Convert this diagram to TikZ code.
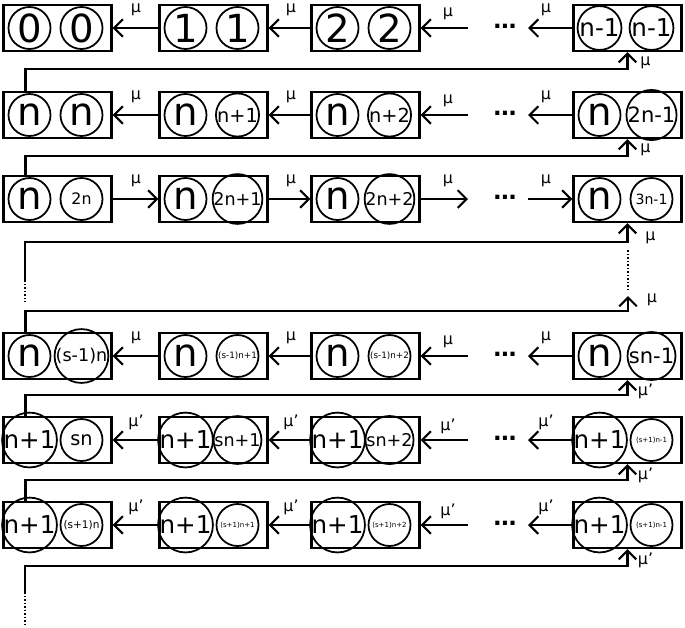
\documentclass[tikz,border=0pt]{standalone}
\usepackage{fontspec}
\setmainfont{DejaVu Sans}
\usetikzlibrary{arrows.meta}
\newcommand{\fs}[1]{\fontsize{#1}{#1}\selectfont}
\tikzstyle{box}=[draw,line width=1.3pt,minimum width=2.16cm,minimum height=0.92cm,inner sep=0pt]
\tikzstyle{ring}=[draw,circle,line width=1pt,minimum size=0.84cm,inner sep=0pt]
\tikzstyle{flow}=[line width=1.2pt,-{Straight Barb[length=5pt,width=10pt]}]
\tikzstyle{rate}=[font=\fs{9}]
\tikzstyle{more}=[font=\bfseries\fs{13}]
\tikzstyle{gap}=[line width=1.6pt,dash pattern=on 1pt off 1pt]
\newcommand{\statebox}[4]{%
	\node[box] (#1) at #2 {};
	\node[ring] (#1a) at ([xshift=-0.56cm]#1.center) {#3};
	\node[ring] (#1b) at ([xshift=0.48cm]#1.center) {#4};}
\begin{document}
\begin{tikzpicture}[x=0.02cm,y=-0.02cm]
	\useasboundingbox (0,0) rectangle (685,627);
	%The state boxes, row by row
	\foreach \pos/\name/\l/\r in {{(57.5,28)/b11/{\fs{22}0}/{\fs{22}0}}, {(213.5,28)/b12/{\fs{22}1}/{\fs{22}1}},
								  {(365.5,28)/b13/{\fs{22}2}/{\fs{22}2}}, {(627.5,28)/b14/{\fs{14}n-1}/{\fs{14}n-1}}}
	\statebox{\name}{\pos}{\l}{\r};
	\foreach \pos/\name/\l/\r in {{(57.5,115)/b21/{\fs{22}n}/{\fs{22}n}}, {(213.5,115)/b22/{\fs{22}n}/{\fs{11}n+1}},
								  {(365.5,115)/b23/{\fs{22}n}/{\fs{11}n+2}}, {(627.5,115)/b24/{\fs{22}n}/{\fs{12}2n-1}}}
	\statebox{\name}{\pos}{\l}{\r};
	\foreach \pos/\name/\l/\r in {{(57.5,199)/b31/{\fs{22}n}/{\fs{9}2n}}, {(213.5,199)/b32/{\fs{22}n}/{\fs{10}2n+1}},
								  {(365.5,199)/b33/{\fs{22}n}/{\fs{10}2n+2}}, {(627.5,199)/b34/{\fs{22}n}/{\fs{8}3n-1}}}
	\statebox{\name}{\pos}{\l}{\r};
	\foreach \pos/\name/\l/\r in {{(57.5,356)/b41/{\fs{22}n}/{\fs{10}(s-1)n}}, {(213.5,356)/b42/{\fs{22}n}/{\fs{5}(s-1)n+1}},
								  {(365.5,356)/b43/{\fs{22}n}/{\fs{5}(s-1)n+2}}, {(627.5,356)/b44/{\fs{22}n}/{\fs{12}sn-1}}}
	\statebox{\name}{\pos}{\l}{\r};
	\foreach \pos/\name/\l/\r in {{(57.5,440)/b51/{\fs{14}n+1}/{\fs{11}sn}}, {(213.5,440)/b52/{\fs{14}n+1}/{\fs{10}sn+1}},
								  {(365.5,440)/b53/{\fs{14}n+1}/{\fs{10}sn+2}}, {(627.5,440)/b54/{\fs{14}n+1}/{\fs{4}(s+1)n-1}}}
	\statebox{\name}{\pos}{\l}{\r};
	\foreach \pos/\name/\l/\r in {{(57.5,525)/b61/{\fs{14}n+1}/{\fs{6}(s+1)n}}, {(213.5,525)/b62/{\fs{14}n+1}/{\fs{4}(s+1)n+1}},
								  {(365.5,525)/b63/{\fs{14}n+1}/{\fs{4}(s+1)n+2}}, {(627.5,525)/b64/{\fs{14}n+1}/{\fs{4}(s+1)n-1}}}
	\statebox{\name}{\pos}{\l}{\r};
	%Arrows inside the rows (to the left)
	\foreach \row/\y/\m in {1/28/μ, 2/115/μ, 4/356/μ, 5/440/μ', 6/525/μ'}{
		\coordinate (l\row) at (468,\y);
		\coordinate (r\row) at (528,\y);
		\node[more] (d\row) at (505,\y-2) {\dots};
		\draw[flow] (b\row2.west) -- (b\row1.east);
		\draw[flow] (b\row3.west) -- (b\row2.east);
		\draw[flow] (l\row) -- (b\row3.east);
		\draw[flow] (b\row4.west) -- (r\row);
		\node[rate] (m\row a) at (136,\y-18) {\m};
		\node[rate] (m\row b) at (291,\y-18) {\m};
		\node[rate] (m\row c) at (448,\y-14) {\m};
		\node[rate] (m\row d) at (546,\y-18) {\m};
	}
	%Third row goes to the right
	\coordinate (l3) at (468,199);
	\coordinate (r3) at (528,199);
	\node[more] (d3) at (505,197) {\dots};
	\draw[flow] (b31.east) -- (b32.west);
	\draw[flow] (b32.east) -- (b33.west);
	\draw[flow] (b33.east) -- (l3);
	\draw[flow] (r3) -- (b34.west);
	\node[rate] (m3a) at (136,181) {μ};
	\node[rate] (m3b) at (291,181) {μ};
	\node[rate] (m3c) at (448,181) {μ};
	\node[rate] (m3d) at (546,181) {μ};
	%Returns from one row to the next
	\draw[flow] ([xshift=-0.64cm]b21.north) -- ++(0,-22) -| (b14.south);
	\draw[flow] ([xshift=-0.64cm]b31.north) -- ++(0,-19) -| (b24.south);
	\draw[flow] ([xshift=-0.64cm]b51.north) -- ++(0,-21) -| (b44.south);
	\draw[flow] ([xshift=-0.64cm]b61.north) -- ++(0,-21) -| (b54.south);
	\node[rate] (f1) at ([xshift=0.36cm,yshift=-0.22cm]b14.south) {μ};
	\node[rate] (f2) at ([xshift=0.36cm,yshift=-0.22cm]b24.south) {μ};
	\node[rate] (f3) at ([xshift=0.46cm,yshift=-0.3cm]b34.south) {μ};
	\node[rate] (f5) at ([xshift=0.36cm,yshift=-0.22cm]b44.south) {μ'};
	\node[rate] (f6) at ([xshift=0.36cm,yshift=-0.22cm]b54.south) {μ'};
	\node[rate] (f7) at ([xshift=0.36cm,yshift=-0.22cm]b64.south) {μ'};
	%The gap between the third row and row s
	\coordinate (g1) at (25,280);
	\coordinate (g2) at (25,302);
	\coordinate (g3) at (628,250);
	\coordinate (g4) at (628,290);
	\coordinate (g5) at (628,296);
	\draw[flow] (g1) -- ++(0,-38) -| (b34.south);
	\draw[gap] (g1) -- (g2);
	\draw[gap] (g3) -- (g4);
	\draw[flow] ([xshift=-0.64cm]b41.north) -- ++(0,-21) -| (g5);
	\node[rate] (f4) at (652,300) {μ};
	%Below the last row
	\coordinate (e1) at (25,592);
	\coordinate (e2) at (25,626);
	\draw[flow] (e1) -- ++(0,-26) -| (b64.south);
	\draw[gap] (e1) -- (e2);
\end{tikzpicture}
\end{document}
